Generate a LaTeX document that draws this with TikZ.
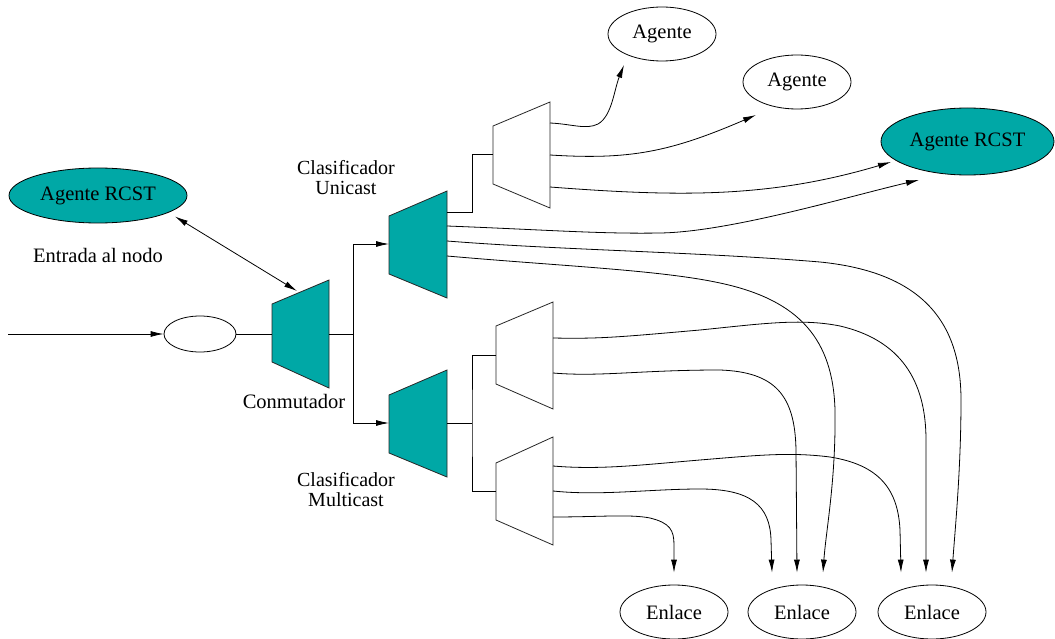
\documentclass[tikz,border=0pt]{standalone}
\usepackage{fontspec}
\setmainfont{Liberation Serif}
\usetikzlibrary{shapes.geometric,arrows.meta,calc}
\definecolor{tealfill}{RGB}{0,168,166}
\tikzset{
  txt/.style={font=\fontsize{20.5}{16}\selectfont},
  lbl/.style={txt, inner sep=0pt, align=center},
  twoline/.style={font=\fontsize{20}{20}\selectfont, inner sep=0pt, align=center},
  ag/.style={ellipse, draw=black, line width=0.8pt, inner sep=0pt, txt},
  agteal/.style={ag, fill=tealfill},
  trapteal/.style={draw=black!85, line width=0.8pt, fill=tealfill},
  trapwhite/.style={draw=black!85, line width=0.8pt, fill=white},
  wire/.style={draw=black, line width=0.8pt},
  arr/.style={wire, -{Latex[length=13pt,width=6pt]}},
  biarr/.style={wire, {Latex[length=13pt,width=6pt]}-{Latex[length=13pt,width=6pt]}},
}
\begin{document}
\begin{tikzpicture}[x=1pt,y=-1pt]
\useasboundingbox (0,0) rectangle (1055,639);

% ---- agents and links ----
\node[agteal, minimum width=178pt, minimum height=55pt] (agL) at (98,195.5) {Agente RCST};
\node[ag, minimum width=108pt, minimum height=54pt] (ag1) at (662,34) {Agente};
\node[ag, minimum width=108pt, minimum height=54pt] (ag2) at (797,82) {Agente};
\node[agteal, minimum width=173pt, minimum height=67pt] (agR) at (967.5,141.5) {Agente RCST};
\node[ag, minimum width=72pt, minimum height=36pt] (gate) at (200,334) {};
\node[ag, minimum width=108pt, minimum height=54pt] (en1) at (674,612) {Enlace};
\node[ag, minimum width=108pt, minimum height=54pt] (en2) at (802,612) {Enlace};
\node[ag, minimum width=108pt, minimum height=54pt] (en3) at (932,612) {Enlace};

% ---- switch and classifiers ----
\draw[trapteal] (272,304) -- (329,280) -- (329,388) -- (272,362) -- cycle;
\draw[trapteal] (389,216) -- (447,191) -- (447,298) -- (389,274) -- cycle;
\draw[trapteal] (389,395) -- (447,370) -- (447,477) -- (389,453) -- cycle;
\draw[trapwhite] (493,126) -- (550,102) -- (550,208) -- (493,184) -- cycle;
\draw[trapwhite] (496,326) -- (553,302) -- (553,409) -- (496,384) -- cycle;
\draw[trapwhite] (496,463) -- (553,437) -- (553,545) -- (496,520) -- cycle;

% ports
\coordinate (inStart) at (8,334);
\coordinate (swIn) at (272,334);
\coordinate (swOut) at (329,334);
\coordinate (swTop) at (297,291);
\coordinate (split) at (353,334);
\coordinate (ucIn) at (389,244);
\coordinate (mcIn) at (389,423);
\coordinate (ucOut1) at (447,212);
\coordinate (ucOut2) at (447,226);
\coordinate (ucOut3) at (447,241);
\coordinate (ucOut4) at (447,256);
\coordinate (ubJ) at (472,154);
\coordinate (ubIn) at (493,154);
\coordinate (ub1) at (550,123);
\coordinate (ub2) at (550,155);
\coordinate (ub3) at (550,187);
\coordinate (mcOut) at (447,423);
\coordinate (mJ) at (472,423);
\coordinate (m1In) at (496,355);
\coordinate (m2In) at (496,491);
\coordinate (m1a) at (553,338);
\coordinate (m1b) at (553,373);
\coordinate (m2a) at (553,466);
\coordinate (m2b) at (553,491);
\coordinate (m2c) at (553,517);
\coordinate (agLp) at ($(agL.center)+(77,21)$);
\coordinate (ag1p) at ($(ag1.center)+(-38,31)$);
\coordinate (ag2p) at ($(ag2.center)+(-41,33)$);
\coordinate (agRp1) at ($(agR.center)+(-76.5,20.5)$);
\coordinate (agRp2) at ($(agR.center)+(-48.5,38.5)$);
\coordinate (en1p) at ($(en1.north)+(0,-12)$);
\coordinate (en2p1) at ($(en2.north)+(-30,-12)$);
\coordinate (en2p2) at ($(en2.north)+(-5,-12)$);
\coordinate (en2p3) at ($(en2.north)+(21,-12)$);
\coordinate (en3p1) at ($(en3.north)+(-31,-12)$);
\coordinate (en3p2) at ($(en3.north)+(-6,-12)$);
\coordinate (en3p3) at ($(en3.north)+(20,-12)$);

% ---- labels ----
\node[lbl] (lEntrada) at (98,255) {Entrada al nodo};
\node[lbl] (lConm) at (294,401) {Conmutador};
\node[twoline] (lUni) at (346,178) {Clasificador\\Unicast};
\node[twoline] (lMulti) at (346,490) {Clasificador\\Multicast};

% ---- input side ----
\draw[arr] (inStart) -- (gate.west);
\draw[wire] (gate.east) -- (swIn);
\draw[biarr] (agLp) -- (swTop);
\draw[wire] (swOut) -- (split);
\draw[arr] (split) |- (ucIn);
\draw[arr] (split) |- (mcIn);

% ---- classifier fan-out ----
\draw[wire] (ucOut1) -| (ubJ) -- (ubIn);
\draw[wire] (mcOut) -- (mJ);
\draw[wire] (m1In) -| (mJ) |- (m2In);

% unicast sub-classifier to agents
\draw[arr] (ub1) .. controls (572,124) and (586,130) .. (598,124)
  .. controls (612,116) and (614,90) .. (ag1p);
\draw[arr] (ub2) .. controls (630,160) and (670,152) .. (ag2p);
\draw[arr] (ub3) .. controls (680,197) and (770,198) .. (agRp1);

% unicast classifier direct outputs
\draw[arr] (ucOut2) .. controls (550,230) and (600,234) .. (660,233)
  .. controls (730,232) and (850,196) .. (agRp2);
\draw[arr] (ucOut3) .. controls (560,250) and (700,252) .. (820,262)
  .. controls (920,272) and (961,320) .. (961,400)
  .. controls (961,470) and (955,530) .. (en3p3);
\draw[arr] (ucOut4) .. controls (560,266) and (660,270) .. (720,283)
  .. controls (800,300) and (833,340) .. (835,410)
  .. controls (836,480) and (826,530) .. (en2p3);

% multicast sub-classifiers to links
\draw[arr] (m1a) .. controls (600,339) and (620,337) .. (700,330)
  .. controls (760,324) and (800,318) .. (840,326)
  .. controls (900,340) and (926,380) .. (926,440) -- (en3p2);
\draw[arr] (m1b) .. controls (600,377) and (640,370) .. (720,370)
  .. controls (775,372) and (795,395) .. (796,450) -- (en2p2);
\draw[arr] (m2a) .. controls (600,470) and (640,465) .. (700,460)
  .. controls (760,455) and (790,452) .. (830,457)
  .. controls (880,465) and (898,490) .. (900,530) -- (en3p1);
\draw[arr] (m2b) .. controls (600,496) and (650,489) .. (700,489)
  .. controls (750,489) and (770,505) .. (771,540) -- (en2p1);
\draw[arr] (m2c) .. controls (600,517) and (630,514) .. (650,518)
  .. controls (670,523) and (674,530) .. (674,545) -- (en1p);
\end{tikzpicture}
\end{document}
